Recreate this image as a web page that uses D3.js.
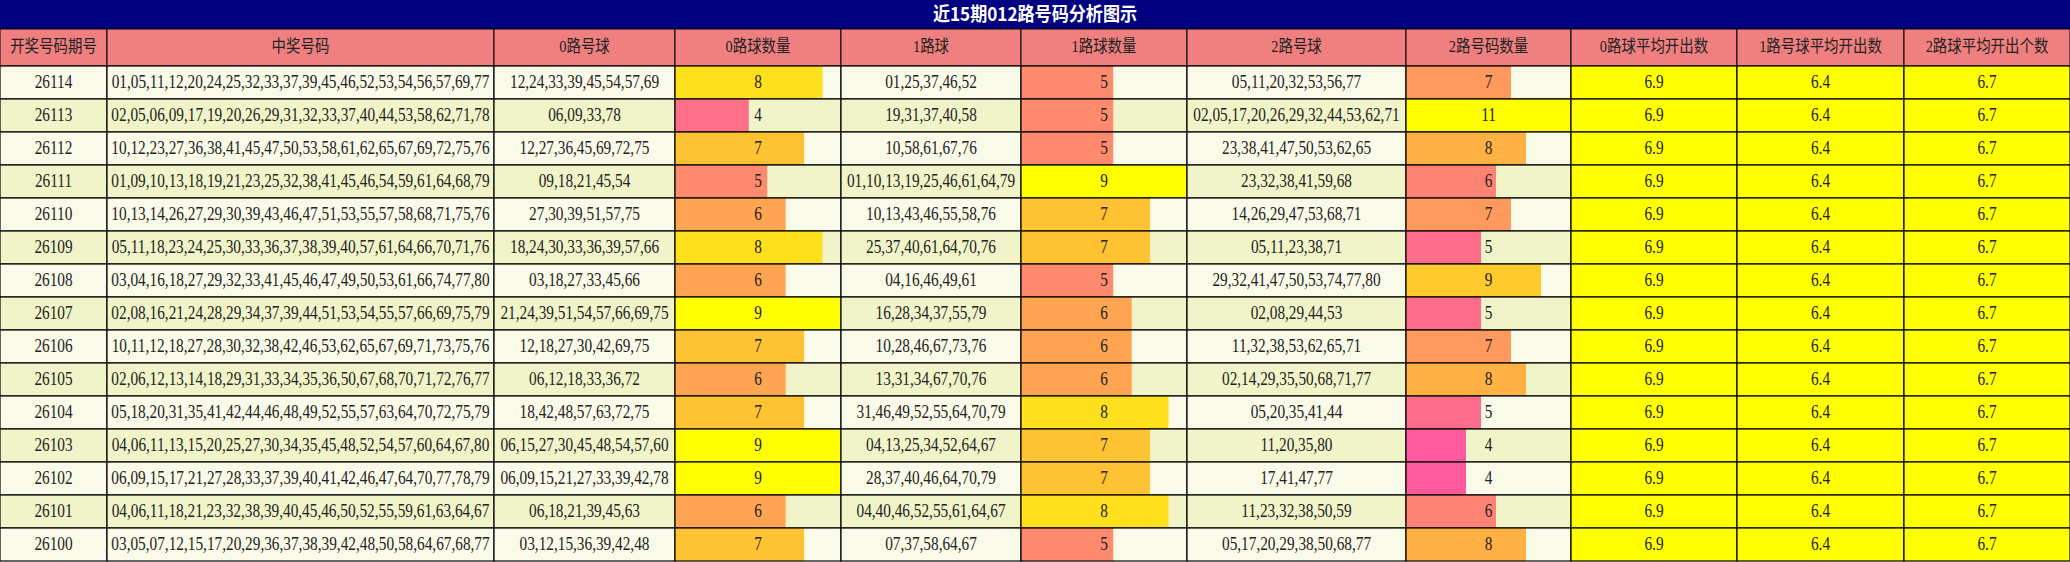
<!DOCTYPE html>
<html>
<head>
<meta charset="utf-8">
<script src="https://cdn.jsdelivr.net/npm/d3@7"></script>
<style>
  body { margin: 0; background: #fff; }
  svg text { font-family: "Liberation Serif", "Noto Sans CJK SC", serif; }
</style>
</head>
<body>
<svg id="chart" width="2070" height="562"></svg>
<script>
const title = "近15期012路号码分析图示";
const headers = ["开奖号码期号", "中奖号码", "0路号球", "0路球数量", "1路球", "1路球数量", "2路号球", "2路号码数量", "0路球平均开出数", "1路号球平均开出数", "2路球平均开出个数"];
const colWidths = [107, 387, 181, 166, 180, 166, 219, 165, 166, 167, 166];

const periods = ["26114","26113","26112","26111","26110","26109","26108","26107","26106","26105","26104","26103","26102","26101","26100"];
const winning = [
  "01,05,11,12,20,24,25,32,33,37,39,45,46,52,53,54,56,57,69,77",
  "02,05,06,09,17,19,20,26,29,31,32,33,37,40,44,53,58,62,71,78",
  "10,12,23,27,36,38,41,45,47,50,53,58,61,62,65,67,69,72,75,76",
  "01,09,10,13,18,19,21,23,25,32,38,41,45,46,54,59,61,64,68,79",
  "10,13,14,26,27,29,30,39,43,46,47,51,53,55,57,58,68,71,75,76",
  "05,11,18,23,24,25,30,33,36,37,38,39,40,57,61,64,66,70,71,76",
  "03,04,16,18,27,29,32,33,41,45,46,47,49,50,53,61,66,74,77,80",
  "02,08,16,21,24,28,29,34,37,39,44,51,53,54,55,57,66,69,75,79",
  "10,11,12,18,27,28,30,32,38,42,46,53,62,65,67,69,71,73,75,76",
  "02,06,12,13,14,18,29,31,33,34,35,36,50,67,68,70,71,72,76,77",
  "05,18,20,31,35,41,42,44,46,48,49,52,55,57,63,64,70,72,75,79",
  "04,06,11,13,15,20,25,27,30,34,35,45,48,52,54,57,60,64,67,80",
  "06,09,15,17,21,27,28,33,37,39,40,41,42,46,47,64,70,77,78,79",
  "04,06,11,18,21,23,32,38,39,40,45,46,50,52,55,59,61,63,64,67",
  "03,05,07,12,15,17,20,29,36,37,38,39,42,48,50,58,64,67,68,77"
];
const road0 = ["12,24,33,39,45,54,57,69","06,09,33,78","12,27,36,45,69,72,75","09,18,21,45,54","27,30,39,51,57,75","18,24,30,33,36,39,57,66","03,18,27,33,45,66","21,24,39,51,54,57,66,69,75","12,18,27,30,42,69,75","06,12,18,33,36,72","18,42,48,57,63,72,75","06,15,27,30,45,48,54,57,60","06,09,15,21,27,33,39,42,78","06,18,21,39,45,63","03,12,15,36,39,42,48"];
const road1 = ["01,25,37,46,52","19,31,37,40,58","10,58,61,67,76","01,10,13,19,25,46,61,64,79","10,13,43,46,55,58,76","25,37,40,61,64,70,76","04,16,46,49,61","16,28,34,37,55,79","10,28,46,67,73,76","13,31,34,67,70,76","31,46,49,52,55,64,70,79","04,13,25,34,52,64,67","28,37,40,46,64,70,79","04,40,46,52,55,61,64,67","07,37,58,64,67"];
const road2 = ["05,11,20,32,53,56,77","02,05,17,20,26,29,32,44,53,62,71","23,38,41,47,50,53,62,65","23,32,38,41,59,68","14,26,29,47,53,68,71","05,11,23,38,71","29,32,41,47,50,53,74,77,80","02,08,29,44,53","11,32,38,53,62,65,71","02,14,29,35,50,68,71,77","05,20,35,41,44","11,20,35,80","17,41,47,77","11,23,32,38,50,59","05,17,20,29,38,50,68,77"];
const count0 = [8,4,7,5,6,8,6,9,7,6,7,9,9,6,7];
const count1 = [5,5,5,9,7,7,5,6,6,6,8,7,7,8,5];
const count2 = [7,11,8,6,7,5,9,5,7,8,5,4,4,6,8];
const avg0 = "6.9", avg1 = "6.4", avg2 = "6.7";

const colorStops = ["#ff5a9e", "#ff7088", "#ff8a6e", "#ffa552", "#ffc232", "#ffe01c", "#ffff00"];
const ramp = d3.piecewise(d3.interpolateRgb, colorStops);

const W = 2070, titleH = 29, headH = 37, bottom = 561;
const svg = d3.select("#chart");

const colX = d3.cumsum([0, ...colWidths]);
const y = d3.scaleBand().domain(periods).range([titleH + headH, bottom]);

// title
svg.append("rect").attr("x", 0).attr("y", 0).attr("width", W).attr("height", titleH).attr("fill", "#000080");
svg.append("text").attr("x", W / 2).attr("y", titleH / 2 + 1)
  .attr("text-anchor", "middle").attr("dominant-baseline", "middle")
  .attr("fill", "#fff").attr("font-weight", "bold").attr("font-size", 19)
  .style("font-family", "'Noto Sans CJK SC', sans-serif")
  .attr("transform", `translate(${W / 2},0) scale(0.9,1) translate(${-W / 2},0)`)
  .text(title);

// header
const hg = svg.append("g");
headers.forEach((h, i) => {
  hg.append("rect").attr("x", colX[i]).attr("y", titleH).attr("width", colWidths[i]).attr("height", headH)
    .attr("fill", "#f08080").attr("stroke", "#000");
  const cx = colX[i] + colWidths[i] / 2;
  hg.append("text").attr("transform", `translate(${cx},${titleH + headH / 2 + 1}) scale(0.85,1)`)
    .attr("text-anchor", "middle").attr("dominant-baseline", "middle")
    .attr("font-size", 17).attr("fill", "#222")
    .style("font-family", "'Liberation Serif','Noto Sans CJK SC',serif")
    .text(h);
});

const countCols = {3: {vals: count0, lo: 3, hi: 9}, 5: {vals: count1, lo: 3, hi: 9}, 7: {vals: count2, lo: 4, hi: 11}};
const textCols = [periods, winning, road0, null, road1, null, road2, null];

periods.forEach((p, r) => {
  const y0 = y(p), h = y.bandwidth();
  const bg = r % 2 === 0 ? "#fafae8" : "#f0f4c8";
  for (let c = 0; c < colWidths.length; c++) {
    const x0 = colX[c], w = colWidths[c];
    let label;
    const fill = c >= 8 ? "#ffff00" : bg;
    svg.append("rect").attr("x", x0).attr("y", y0).attr("width", w).attr("height", h).attr("fill", fill);
    if (countCols[c]) {
      const cc = countCols[c];
      const bx = d3.scaleLinear().domain([0, d3.max(cc.vals)]).range([0, w]);
      const col = d3.scaleSequential(ramp).domain([cc.lo, cc.hi]).clamp(true);
      const v = cc.vals[r];
      svg.append("rect").attr("x", x0).attr("y", y0).attr("width", bx(v)).attr("height", h).attr("fill", col(v));
      label = String(v);
    } else if (c >= 8) {
      label = [avg0, avg1, avg2][c - 8];
    } else {
      label = textCols[c][r];
    }
    svg.append("rect").attr("x", x0).attr("y", y0).attr("width", w).attr("height", h)
      .attr("fill", "none").attr("stroke", "#000").attr("stroke-width", 1.2);
    svg.append("text").attr("transform", `translate(${x0 + w / 2},${y0 + h / 2 + 1}) scale(0.85,1)`)
      .attr("text-anchor", "middle").attr("dominant-baseline", "middle")
      .attr("font-size", 18).attr("fill", "#222").text(label);
  }
});
</script>
</body>
</html>
